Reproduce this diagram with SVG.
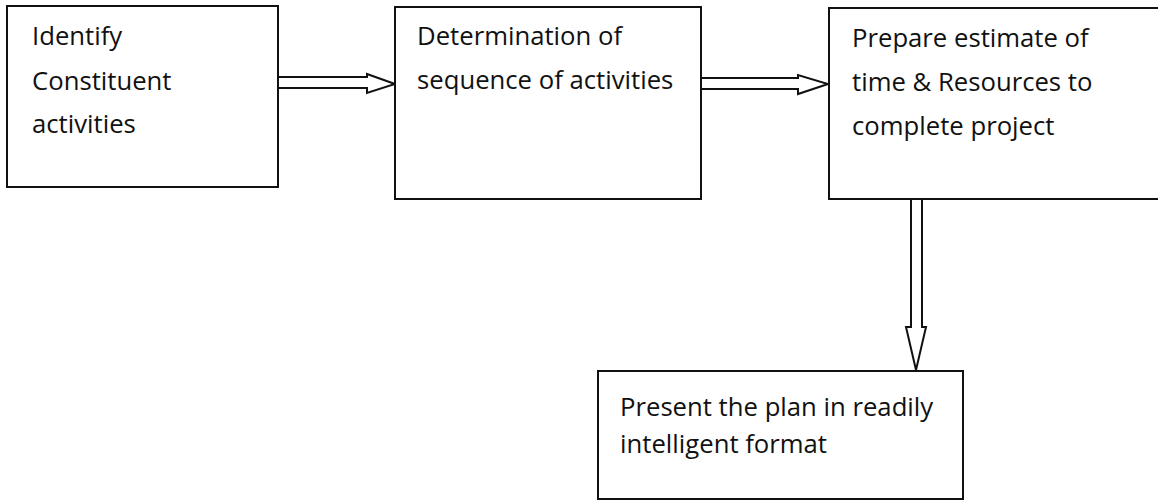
<svg xmlns="http://www.w3.org/2000/svg" width="1158" height="501" viewBox="0 0 1158 501">
  <style>
    .box { fill: #ffffff; stroke: #111111; stroke-width: 2; }
    .arrow { fill: #ffffff; stroke: #111111; stroke-width: 2; stroke-linejoin: miter; }
    .label { font-family: "Open Sans", Lato, "Liberation Sans", sans-serif; font-size: 25.7px; fill: #111111; }
  </style>
  <rect width="1158" height="501" fill="#ffffff"/>

  <!-- hollow block arrows between the steps -->
  <g id="connectors">
    <polygon class="arrow" points="278,77 367,77 367,74 395,84 367,93 367,88 278,88"/>
    <polygon class="arrow" points="701,78 798,78 798,75 828,84 798,94 798,89 701,89"/>
    <polygon class="arrow" points="911,199 922,199 922,327 926,327 916,370 906,327 911,327"/>
  </g>

  <g id="node-identify">
    <rect class="box" x="7" y="6" width="271" height="181"/>
    <text class="label" x="32" y="45">Identify</text>
    <text class="label" x="32" y="90">Constituent</text>
    <text class="label" x="32" y="133">activities</text>
  </g>

  <g id="node-sequence">
    <rect class="box" x="395" y="7" width="306" height="192"/>
    <text class="label" x="417" y="45">Determination of</text>
    <text class="label" x="417" y="89">sequence of activities</text>
  </g>

  <g id="node-estimate">
    <rect class="box" x="829" y="8" width="340" height="191"/>
    <text class="label" x="852" y="47">Prepare estimate of</text>
    <text class="label" x="852" y="91">time &amp; Resources to</text>
    <text class="label" x="852" y="135">complete project</text>
  </g>

  <g id="node-present">
    <rect class="box" x="598" y="371" width="365" height="128"/>
    <text class="label" x="620" y="416">Present the plan in readily</text>
    <text class="label" x="620" y="453">intelligent format</text>
  </g>
</svg>
